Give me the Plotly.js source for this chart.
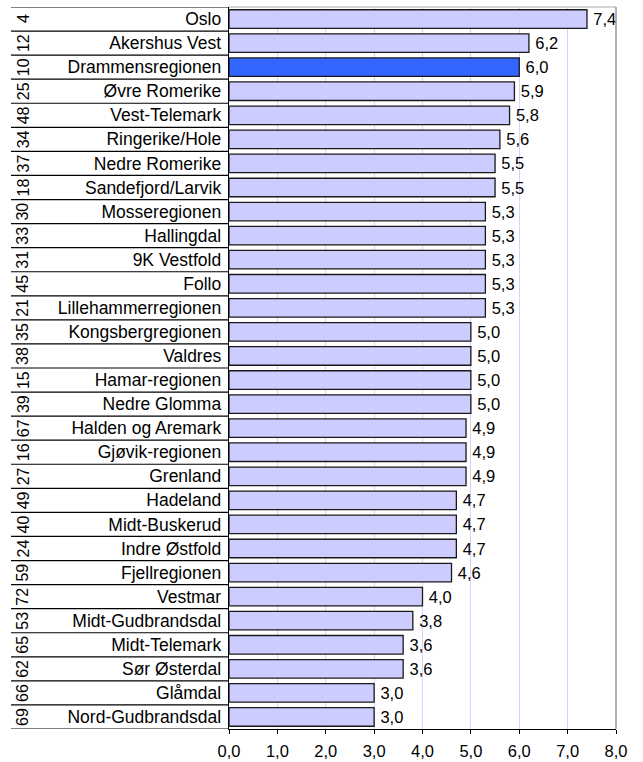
<!DOCTYPE html>
<html><head><meta charset="utf-8">
<script src="https://cdn.plot.ly/plotly-3.0.1.min.js"></script>
<style>html,body{margin:0;padding:0;background:#fff;}#c{width:643px;height:762px;}</style>
</head><body><div id="c"></div>
<script>
const regions = ["Oslo","Akershus Vest","Drammensregionen","Øvre Romerike","Vest-Telemark","Ringerike/Hole","Nedre Romerike","Sandefjord/Larvik","Mosseregionen","Hallingdal","9K Vestfold","Follo","Lillehammerregionen","Kongsbergregionen","Valdres","Hamar-regionen","Nedre Glomma","Halden og Aremark","Gjøvik-regionen","Grenland","Hadeland","Midt-Buskerud","Indre Østfold","Fjellregionen","Vestmar","Midt-Gudbrandsdal","Midt-Telemark","Sør Østerdal","Glåmdal","Nord-Gudbrandsdal"];
const ranks = [4,12,10,25,48,34,37,18,30,33,31,45,21,35,38,15,39,67,16,27,49,40,24,59,72,53,65,62,66,69];
const values = [7.4,6.2,6.0,5.9,5.8,5.6,5.5,5.5,5.3,5.3,5.3,5.3,5.3,5.0,5.0,5.0,5.0,4.9,4.9,4.9,4.7,4.7,4.7,4.6,4.0,3.8,3.6,3.6,3.0,3.0];
const highlight = "Drammensregionen";
const xTicks = [0,1,2,3,4,5,6,7,8];

const idx = regions.map((_, i) => i);
const colors = regions.map(r => r === highlight ? "#3366ff" : "#ccccff");
const FONT = "Liberation Sans, Arial, sans-serif";

const trace = {
  type: "bar", orientation: "h",
  x: values, y: idx,
  marker: {color: colors, line: {color: "#1a1a1a", width: 1.3}},
  width: 0.77,
  text: values.map(v => "\u2009" + v.toFixed(1).replace(".", ",")),
  textposition: "outside", cliponaxis: false,
  textfont: {family: FONT, size: 16.5, color: "#000"},
  hoverinfo: "none"
};

const lblX = -(229 - 11) / 387;
const shapes = [];
for (let i = 0; i <= regions.length; i++) {
  shapes.push({type: "line", xref: "paper", yref: "y", x0: lblX, x1: 0, y0: i - 0.5, y1: i - 0.5,
    line: {color: "#000", width: 1.2}});
}
shapes.push({type: "line", xref: "paper", yref: "paper", x0: 0, x1: 1, y0: 1, y1: 1, line: {color: "#aaa", width: 1.2}});
shapes.push({type: "line", xref: "paper", yref: "paper", x0: 1, x1: 1, y0: 0, y1: 1, line: {color: "#999", width: 1.5}});

const annotations = ranks.map((r, i) => ({
  xref: "paper", yref: "y", x: -(229 - 23) / 387, y: i, text: String(r), textangle: -90,
  showarrow: false, font: {family: FONT, size: 16, color: "#000"}, xanchor: "center", yanchor: "middle"
}));

const layout = {
  width: 643, height: 762,
  margin: {l: 229, r: 27, t: 7, b: 33},
  paper_bgcolor: "#fff", plot_bgcolor: "#fff",
  separators: ", ",
  showlegend: false,
  font: {family: FONT, size: 16.5, color: "#000"},
  xaxis: {range: [0, 8], tickvals: xTicks, tickformat: ".1f", showgrid: true, gridcolor: "#d4d4ff", gridwidth: 1,
    zeroline: false, showline: true, linecolor: "#000", linewidth: 1.3, ticks: "outside", ticklen: 4, tickcolor: "#000",
    ticklabelstandoff: 3,
    tickfont: {family: FONT, size: 16.5, color: "#000"}, fixedrange: true},
  yaxis: {type: "linear", range: [regions.length - 0.5, -0.5], tickvals: idx, ticktext: regions, showgrid: false,
    zeroline: false, showline: true, linecolor: "#000", linewidth: 1.3, ticks: "", ticklabelstandoff: 3,
    tickfont: {family: FONT, size: 17.5, color: "#000"}, fixedrange: true},
  shapes: shapes,
  annotations: annotations
};

Plotly.newPlot("c", [trace], layout, {displayModeBar: false, staticPlot: true});
</script>
</body></html>
